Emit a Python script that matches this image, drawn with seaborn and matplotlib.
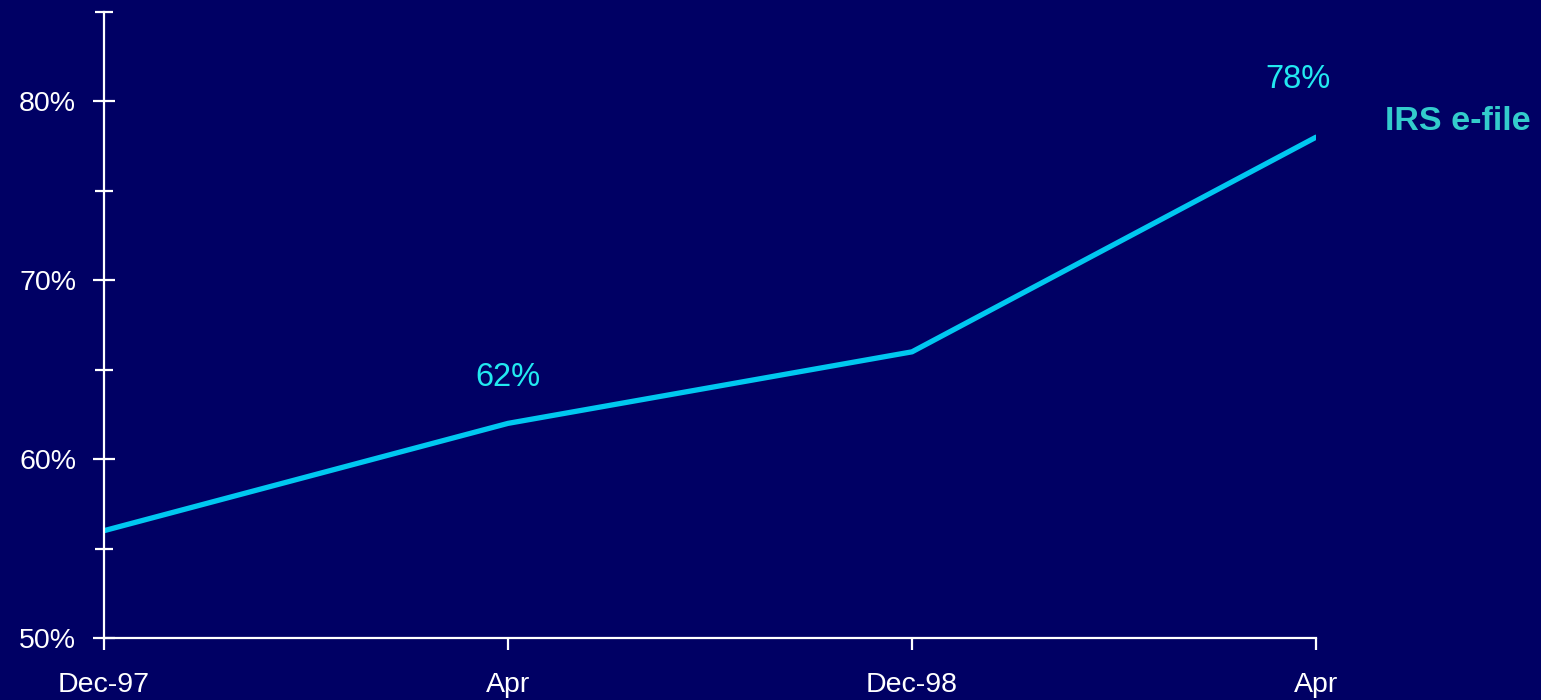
import matplotlib
matplotlib.use("Agg")
import matplotlib.pyplot as plt
import seaborn as sns
import pandas as pd
from matplotlib.ticker import MultipleLocator, FuncFormatter

periods = ["Dec-97", "Apr", "Dec-98", "Apr "]
share = [56, 62, 66, 78]
point_labels = {1: "62%", 3: "78%"}
series_name = "IRS e-file"

bg = "#000064"
sns.set_theme(style="white")
plt.rcParams["font.family"] = ["Liberation Sans", "DejaVu Sans"]

df = pd.DataFrame({"x": range(len(periods)), "y": share})

fig = plt.figure(figsize=(15.41, 7.0), dpi=100, facecolor=bg)
ax = fig.add_axes([104/1541, 1-638/700, 1212/1541, 626/700])
ax.set_facecolor(bg)

sns.lineplot(data=df, x="x", y="y", ax=ax, color="#00C8F0", linewidth=3.8)

ax.set_xlim(0, 3)
ax.set_ylim(50, 85)
ax.set_xticks(range(len(periods)))
ax.set_xticklabels([p.strip() for p in periods])
ax.yaxis.set_major_locator(MultipleLocator(10))
ax.yaxis.set_minor_locator(MultipleLocator(5))
ax.yaxis.set_major_formatter(FuncFormatter(lambda v, p: f"{int(v)}%"))
ax.set_xlabel("")
ax.set_ylabel("")

for s in ["top", "right"]:
    ax.spines[s].set_visible(False)
for s in ["left", "bottom"]:
    ax.spines[s].set_color("white")
    ax.spines[s].set_linewidth(1.6)

ax.tick_params(axis="y", which="major", direction="inout", length=16, width=1.6,
               color="white", labelcolor="white", labelsize=20.5, pad=12, left=True)
ax.tick_params(axis="y", which="minor", direction="inout", length=13, width=1.6,
               color="white", left=True)
ax.tick_params(axis="x", which="major", direction="out", length=8.5, width=1.6,
               color="white", labelcolor="white", labelsize=20.5, pad=16, bottom=True)

offsets = {1: (0, 46), 3: (-18, 58)}
for i, lab in point_labels.items():
    ax.annotate(lab, (i, share[i]), xytext=offsets[i],
                textcoords="offset pixels", ha="center", va="center",
                color="#22E8F0", fontsize=23.5, annotation_clip=False)

fig.text(1385/1541, 1-121/700, series_name, color="#33CCCC", fontsize=24.5,
         fontweight="bold", ha="left", va="center")

fig.savefig("out.png", dpi=100, facecolor=bg)
